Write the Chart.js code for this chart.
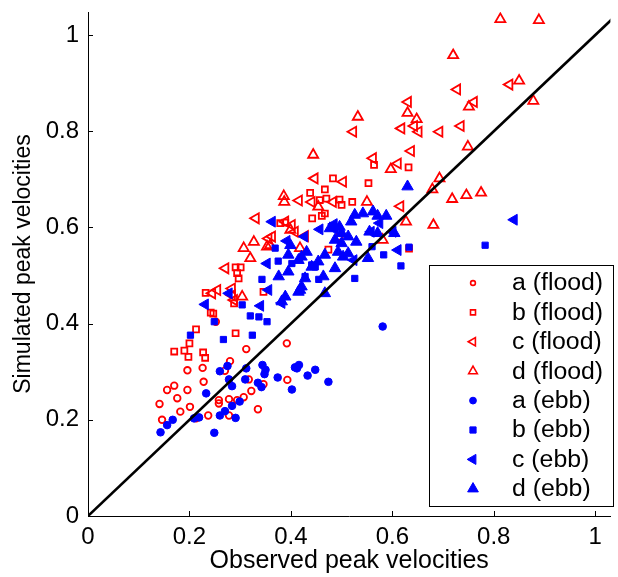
<!DOCTYPE html>
<html>
<head>
<meta charset="utf-8">
<script src="https://cdn.jsdelivr.net/npm/chart.js"></script>
<style>
  body { margin: 0; background: #fff; }
</style>
</head>
<body>
<canvas id="myChart" width="618" height="577"></canvas>
<script>
// observed vs simulated peak velocities, [observed, simulated]
var aFlood = [[0.392,0.359],[0.312,0.347],[0.196,0.303],[0.226,0.308],[0.280,0.322],[0.270,0.302],[0.170,0.271],[0.156,0.262],[0.196,0.262],[0.228,0.279],[0.176,0.245],[0.141,0.233],[0.201,0.227],[0.182,0.217],[0.146,0.200],[0.317,0.284],[0.322,0.260],[0.307,0.247],[0.294,0.241],[0.278,0.243],[0.258,0.241],[0.258,0.234],[0.335,0.222],[0.346,0.274],[0.393,0.283],[0.237,0.209],[0.213,0.203],[0.278,0.209],[0.252,0.404]]
var bFlood = [[0.232,0.464],[0.242,0.423],[0.213,0.388],[0.200,0.359],[0.170,0.342],[0.190,0.344],[0.227,0.340],[0.198,0.331],[0.231,0.329],[0.291,0.380],[0.247,0.421],[0.288,0.442],[0.467,0.679],[0.438,0.672],[0.470,0.660],[0.457,0.657],[0.467,0.629],[0.442,0.619],[0.379,0.609],[0.389,0.610],[0.291,0.517],[0.301,0.517],[0.294,0.505],[0.297,0.494],[0.346,0.466],[0.564,0.730],[0.632,0.725],[0.483,0.702],[0.553,0.692],[0.496,0.658],[0.521,0.653],[0.461,0.624],[0.474,0.554],[0.633,0.556],[0.500,0.647],[0.496,0.581]]
var cFlood = [[0.831,0.897],[0.728,0.887],[0.761,0.861],[0.631,0.861],[0.643,0.811],[0.618,0.806],[0.652,0.799],[0.693,0.799],[0.735,0.811],[0.637,0.759],[0.611,0.733],[0.616,0.644],[0.562,0.744],[0.447,0.702],[0.503,0.695],[0.416,0.656],[0.389,0.612],[0.402,0.605],[0.428,0.582],[0.523,0.799],[0.441,0.653],[0.483,0.653],[0.331,0.619],[0.408,0.591],[0.363,0.581],[0.271,0.515],[0.255,0.470],[0.284,0.459],[0.245,0.463],[0.356,0.577],[0.284,0.473],[0.288,0.449]]
var dFlood = [[0.813,1.033],[0.889,1.031],[0.720,0.958],[0.850,0.905],[0.878,0.863],[0.751,0.851],[0.630,0.838],[0.648,0.825],[0.749,0.768],[0.597,0.721],[0.693,0.702],[0.679,0.679],[0.718,0.659],[0.746,0.667],[0.775,0.672],[0.627,0.612],[0.681,0.605],[0.532,0.830],[0.444,0.751],[0.550,0.653],[0.386,0.665],[0.387,0.653],[0.454,0.643],[0.399,0.595],[0.327,0.570],[0.307,0.557],[0.353,0.560],[0.320,0.536],[0.418,0.557],[0.304,0.456],[0.359,0.563],[0.581,0.574]]
var aEbb = [[0.260,0.301],[0.275,0.312],[0.278,0.284],[0.284,0.270],[0.233,0.255],[0.284,0.229],[0.299,0.238],[0.270,0.218],[0.260,0.209],[0.291,0.204],[0.219,0.205],[0.209,0.203],[0.167,0.200],[0.156,0.189],[0.143,0.174],[0.249,0.173],[0.312,0.307],[0.310,0.284],[0.344,0.314],[0.350,0.304],[0.348,0.295],[0.335,0.277],[0.342,0.268],[0.374,0.288],[0.402,0.263],[0.408,0.309],[0.581,0.394],[0.412,0.307],[0.416,0.314],[0.448,0.304],[0.433,0.292],[0.474,0.279]]
var bEbb = [[0.304,0.439],[0.320,0.416],[0.337,0.414],[0.353,0.404],[0.324,0.376],[0.267,0.367],[0.202,0.376],[0.249,0.404],[0.343,0.492],[0.369,0.557],[0.583,0.543],[0.617,0.520],[0.526,0.494],[0.633,0.559],[0.441,0.522],[0.402,0.525],[0.428,0.498],[0.560,0.560],[0.448,0.518],[0.783,0.563],[0.375,0.530],[0.455,0.492]]
var cEbb = [[0.840,0.616],[0.231,0.440],[0.363,0.612],[0.457,0.596],[0.278,0.463],[0.340,0.437],[0.353,0.525],[0.356,0.470],[0.392,0.572],[0.427,0.581],[0.611,0.553],[0.558,0.591],[0.601,0.591],[0.485,0.607],[0.382,0.443],[0.487,0.596],[0.524,0.532],[0.575,0.609]]
var dEbb = [[0.526,0.626],[0.542,0.629],[0.562,0.633],[0.571,0.624],[0.588,0.624],[0.519,0.612],[0.496,0.601],[0.477,0.598],[0.500,0.588],[0.513,0.581],[0.487,0.574],[0.529,0.570],[0.555,0.591],[0.571,0.588],[0.604,0.588],[0.493,0.549],[0.513,0.546],[0.467,0.543],[0.431,0.549],[0.421,0.539],[0.454,0.529],[0.487,0.515],[0.552,0.536],[0.428,0.494],[0.464,0.498],[0.500,0.567],[0.630,0.685],[0.418,0.470],[0.467,0.463],[0.503,0.539],[0.421,0.477],[0.395,0.508],[0.376,0.498],[0.415,0.532],[0.395,0.543],[0.389,0.456],[0.382,0.446],[0.441,0.518],[0.399,0.563],[0.415,0.466]]

var seriesNames = ["a (flood)", "b (flood)", "c (flood)", "d (flood)", "a (ebb)", "b (ebb)", "c (ebb)", "d (ebb)"]
var lineEnds = [0, 1.05]
var xTicks = [0, 0.2, 0.4, 0.6, 0.8, 1]
var yTicks = [0, 0.2, 0.4, 0.6, 0.8, 1]

var RED = "#ff0000"
var BLUE = "#0000ff"
var FONT = "'Liberation Sans', Arial, Helvetica, sans-serif"

function pts(arr) {
    return arr.map(function (p) { return { x: p[0], y: p[1] } })
}

function scatterSet(label, data, color, style, rot, r, open, order) {
    return {
        type: "scatter",
        label: label,
        data: pts(data),
        pointStyle: style,
        rotation: rot,
        pointRadius: r,
        borderColor: color,
        backgroundColor: open ? "rgba(0,0,0,0)" : color,
        borderWidth: open ? 1.8 : 1,
        order: order
    }
}

// little markers for the legend box
function marker(ctx, style, open, color, x, y, r) {
    ctx.save()
    ctx.strokeStyle = color
    ctx.fillStyle = color
    ctx.lineWidth = open ? 1.6 : 1
    ctx.beginPath()
    if (style == "circle") {
        ctx.arc(x, y, r, 0, Math.PI * 2)
    } else if (style == "rect") {
        ctx.rect(x - r, y - r, 2 * r, 2 * r)
    } else if (style == "left") {
        ctx.moveTo(x - r, y)
        ctx.lineTo(x + r * 0.5, y - r * 0.866)
        ctx.lineTo(x + r * 0.5, y + r * 0.866)
        ctx.closePath()
    } else {
        ctx.moveTo(x, y - r)
        ctx.lineTo(x + r * 0.866, y + r * 0.5)
        ctx.lineTo(x - r * 0.866, y + r * 0.5)
        ctx.closePath()
    }
    if (!open) ctx.fill()
    ctx.stroke()
    ctx.restore()
}

var inwardTicks = {
    id: "inwardTicks",
    afterDraw: function (chart) {
        var ctx = chart.ctx
        var xs = chart.scales.x, ys = chart.scales.y
        var area = chart.chartArea
        ctx.save()
        ctx.strokeStyle = "#000"
        ctx.lineWidth = 1
        ctx.beginPath()
        xTicks.forEach(function (v) {
            var px = Math.round(xs.getPixelForValue(v)) + 0.5
            ctx.moveTo(px, area.bottom)
            ctx.lineTo(px, area.bottom - 5)
        })
        yTicks.forEach(function (v) {
            var py = Math.round(ys.getPixelForValue(v)) + 0.5
            ctx.moveTo(area.left, py)
            ctx.lineTo(area.left + 5, py)
        })
        ctx.stroke()
        ctx.restore()
    }
}

var legendBox = {
    id: "legendBox",
    afterDraw: function (chart) {
        var ctx = chart.ctx
        var styles = [["circle", true, RED, 2.4], ["rect", true, RED, 2.5], ["left", true, RED, 4.8], ["up", true, RED, 5],
                      ["circle", false, BLUE, 3.4], ["rect", false, BLUE, 3.1], ["left", false, BLUE, 5.8], ["up", false, BLUE, 6.2]]
        ctx.save()
        ctx.fillStyle = "#fff"
        ctx.fillRect(429, 265, 185, 242)
        ctx.strokeStyle = "#000"
        ctx.lineWidth = 1
        ctx.strokeRect(429.5, 265.5, 184, 241)
        ctx.font = "23px " + FONT
        ctx.textBaseline = "middle"
        for (var i = 0; i < seriesNames.length; i++) {
            var y = 283 + i * 29.4
            marker(ctx, styles[i][0], styles[i][1], styles[i][2], 473, y, styles[i][3])
            ctx.fillStyle = "#000"
            ctx.save()
            ctx.translate(512, y + 1)
            ctx.scale(1.08, 1)
            ctx.fillText(seriesNames[i], 0, 0)
            ctx.restore()
        }
        ctx.restore()
    }
}

new Chart("myChart", {
    data: {
        datasets: [
            {
                type: "line",
                label: "1:1",
                data: [{ x: lineEnds[0], y: lineEnds[0] }, { x: lineEnds[1], y: lineEnds[1] }],
                borderColor: "#000",
                borderWidth: 2.6,
                pointRadius: 0,
                order: 0
            },
            scatterSet(seriesNames[0], aFlood, RED, "circle", 0, 3.3, true, 2),
            scatterSet(seriesNames[1], bFlood, RED, "rect", 0, 4.2, true, 2),
            scatterSet(seriesNames[2], cFlood, RED, "triangle", -90, 5.8, true, 2),
            scatterSet(seriesNames[3], dFlood, RED, "triangle", 0, 5.8, true, 2),
            scatterSet(seriesNames[4], aEbb, BLUE, "circle", 0, 3.8, false, 1),
            scatterSet(seriesNames[5], bEbb, BLUE, "rect", 0, 4.4, false, 1),
            scatterSet(seriesNames[6], cEbb, BLUE, "triangle", -90, 6.3, false, 1),
            scatterSet(seriesNames[7], dEbb, BLUE, "triangle", 0, 6.6, false, 1)
        ]
    },
    options: {
        responsive: false,
        devicePixelRatio: 1,
        animation: false,
        events: [],
        layout: { padding: { top: 12, right: 4, left: 0, bottom: 0 } },
        plugins: {
            legend: { display: false },
            tooltip: { enabled: false }
        },
        scales: {
            x: {
                type: "linear",
                min: 0,
                max: 1.03,
                afterFit: function (s) { s.height = 61; s.paddingLeft = 0; s.paddingRight = 0 },
                ticks: {
                    stepSize: 0.2,
                    includeBounds: false,
                    padding: 7,
                    color: "#000",
                    font: { family: FONT, size: 24 },
                    callback: function (v) { return String(Math.round(v * 10) / 10) }
                },
                grid: { drawOnChartArea: false, drawTicks: false },
                border: { display: true, color: "#000", width: 1 },
                title: {
                    display: true,
                    text: "Observed peak velocities",
                    color: "#000",
                    font: { family: FONT, size: 25 },
                    padding: { top: 0, bottom: 1 }
                }
            },
            y: {
                type: "linear",
                min: 0,
                max: 1.048,
                afterFit: function (s) { s.width = 88; s.paddingTop = 0; s.paddingBottom = 0 },
                ticks: {
                    stepSize: 0.2,
                    includeBounds: false,
                    padding: 9,
                    color: "#000",
                    font: { family: FONT, size: 24 },
                    callback: function (v) { return String(Math.round(v * 10) / 10) }
                },
                grid: { drawOnChartArea: false, drawTicks: false },
                border: { display: true, color: "#000", width: 1 },
                title: {
                    display: true,
                    text: "Simulated peak velocities",
                    color: "#000",
                    font: { family: FONT, size: 23 },
                    padding: { top: 10, bottom: 0 }
                }
            }
        }
    },
    plugins: [inwardTicks, legendBox]
})
</script>
</body>
</html>
